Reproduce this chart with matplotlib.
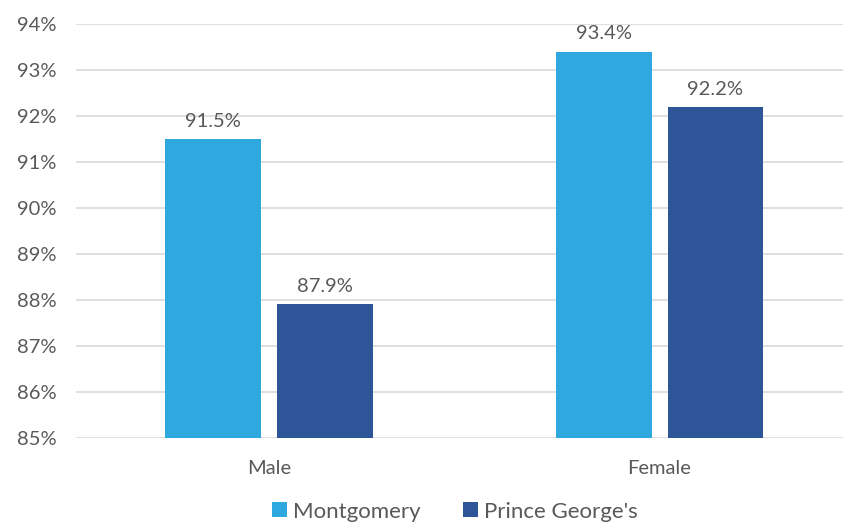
import numpy as np
from matplotlib import pyplot as plt
from matplotlib.ticker import FuncFormatter

categories = ['Male', 'Female']
series_names = ['Montgomery', "Prince George's"]
montgomery = [91.5, 93.4]
prince_georges = [87.9, 92.2]
y_ticks = [85, 86, 87, 88, 89, 90, 91, 92, 93, 94]

colors = ['#2EA8DF', '#2E5597']
text_color = '#595959'

plt.rcParams['font.family'] = ['Lato', 'DejaVu Sans']

fig = plt.figure(figsize=(8.43, 5.32), dpi=100)
ax = fig.add_axes([0.09, 0.177, 0.91, 0.778])

x = np.arange(len(categories))
width = 0.245
offset = 0.143
bars1 = ax.bar(x - offset, montgomery, width, color=colors[0], label=series_names[0], zorder=3)
bars2 = ax.bar(x + offset, prince_georges, width, color=colors[1], label=series_names[1], zorder=3)

for bars, vals in [(bars1, montgomery), (bars2, prince_georges)]:
    for b, v in zip(bars, vals):
        ax.text(b.get_x() + b.get_width() / 2, v + 0.2, f'{v:.1f}%',
                ha='center', va='bottom', fontsize=14.5, color=text_color)

ax.set_ylim(85, 94)
ax.set_xlim(-0.495, 1.47)
ax.set_yticks(y_ticks)
ax.yaxis.set_major_formatter(FuncFormatter(lambda v, _: f'{v:.0f}%'))
ax.set_xticks(x)
ax.set_xticklabels(categories)
ax.tick_params(axis='both', length=0, labelsize=14.5, labelcolor=text_color)
ax.tick_params(axis='y', pad=14)
ax.tick_params(axis='x', pad=16)
ax.grid(axis='y', color='#D9D9D9', linewidth=1.2, zorder=0)
for s in ax.spines.values():
    s.set_visible(False)

fig.legend(loc='lower center', bbox_to_anchor=(0.54, -0.018), ncol=2, frameon=False,
           fontsize=16, handlelength=0.65, handleheight=0.65, handletextpad=0.3,
           columnspacing=1.9, labelcolor=text_color)

fig.savefig('out.png', dpi=100)
